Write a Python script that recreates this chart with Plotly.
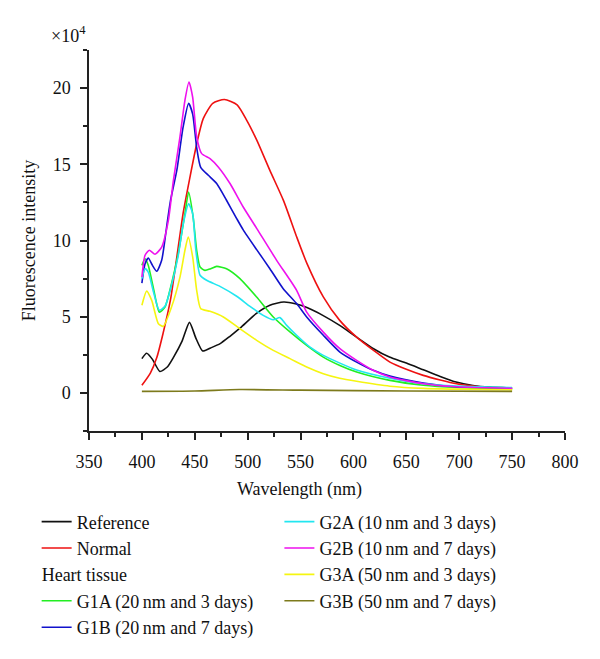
import plotly.graph_objects as go

# ---------------- data (values in units of 1e4) ----------------
ref_wl = [400, 404.5, 410, 417, 424, 430, 438, 445, 451, 457.5, 465, 474, 483, 493, 508, 521, 534, 545, 556, 571, 587, 603, 619, 634, 650, 666, 682, 697, 713, 729, 750]
ref_val = [2.25, 2.6, 2.2, 1.41, 1.7, 2.35, 3.4, 4.63, 3.6, 2.75, 2.95, 3.23, 3.7, 4.26, 5.2, 5.75, 5.96, 5.85, 5.6, 5.09, 4.43, 3.66, 2.9, 2.35, 1.96, 1.52, 1.08, 0.71, 0.49, 0.38, 0.32]

normal_wl = [400, 408, 414, 420, 427, 433, 439, 445, 452, 458, 467, 478, 490, 499, 508.5, 521, 534, 546, 556, 571.5, 587, 603, 619, 634.5, 650, 666, 682, 697.5, 713, 729, 750]
normal_val = [0.5, 1.3, 2.3, 3.9, 6.1, 8.9, 11.8, 14.0, 16.4, 18.0, 19.0, 19.25, 18.9, 17.9, 16.6, 14.6, 12.6, 10.3, 8.5, 6.3, 4.76, 3.66, 2.79, 2.02, 1.55, 1.15, 0.85, 0.6, 0.45, 0.32, 0.25]

g1a_wl = [400, 403, 406, 411, 416.5, 421.8, 428, 434.4, 440.7, 444.2, 448.5, 451.8, 455, 459.6, 465, 470.7, 480, 492.7, 508.5, 524.2, 540, 555.8, 571.5, 587.2, 603, 634.5, 666, 697.5, 750]
g1a_val = [8.37, 8.8, 8.37, 6.84, 5.3, 5.63, 7.17, 9.14, 11.77, 13.18, 11.5, 9.36, 8.26, 8.04, 8.15, 8.3, 8.15, 7.5, 6.29, 4.98, 4.0, 3.12, 2.35, 1.8, 1.37, 0.82, 0.5, 0.35, 0.25]

g1b_wl = [400, 403, 406, 410, 414, 418.7, 423.4, 427, 433, 439, 444.2, 448, 451.8, 455.6, 462.8, 470.7, 480, 489.6, 495.8, 508.5, 521, 533.6, 546.3, 555.8, 571.5, 587.2, 603, 618.7, 634.5, 666, 697.5, 750]
g1b_val = [7.2, 8.48, 8.85, 8.37, 7.98, 8.7, 10.9, 12.6, 14.6, 17.45, 19.0, 18.3, 16.1, 14.8, 14.28, 13.74, 12.64, 11.44, 10.7, 9.4, 8.15, 6.84, 5.86, 4.98, 3.78, 2.68, 2.02, 1.48, 1.1, 0.65, 0.4, 0.3]

g2a_wl = [400, 403, 406, 411, 416.5, 421.8, 428, 434.4, 439.1, 444.2, 448, 451, 455, 461.2, 473.8, 489.6, 502.2, 514.7, 524.2, 530.5, 536.9, 546.3, 559, 571.5, 603, 634.5, 666, 697.5, 750]
g2a_val = [7.5, 8.15, 7.93, 6.62, 5.42, 5.68, 7.06, 9.03, 11.1, 12.4, 11.77, 9.36, 7.72, 7.39, 6.99, 6.34, 5.68, 5.09, 4.8, 4.94, 4.43, 3.78, 3.0, 2.46, 1.5, 0.96, 0.6, 0.45, 0.35]

g2b_wl = [400, 403, 407, 412.4, 418.7, 425, 429.7, 436, 440.7, 444.5, 448, 451.8, 456.5, 464.4, 472.2, 483.3, 495.8, 508.5, 527.4, 546.3, 555.8, 571.5, 587.2, 603, 618.7, 634.5, 666, 697.5, 750]
g2b_val = [7.6, 9.03, 9.36, 9.1, 9.57, 11.3, 13.9, 16.8, 19.2, 20.4, 19.4, 16.8, 15.7, 15.38, 14.83, 13.74, 12.2, 10.8, 8.7, 6.73, 5.3, 3.99, 2.9, 2.13, 1.48, 1.04, 0.6, 0.4, 0.3]

g3a_wl = [400, 404.5, 409.3, 415.6, 420.2, 428, 436, 440.7, 443.8, 448, 451.8, 455.6, 464.4, 477, 492.7, 508.5, 524.2, 540, 555.8, 571.5, 587, 603, 634.5, 666, 750]
g3a_val = [5.75, 6.68, 6.07, 4.54, 4.37, 5.63, 7.6, 9.36, 10.23, 8.92, 6.73, 5.53, 5.35, 4.98, 4.21, 3.45, 2.79, 2.25, 1.7, 1.26, 0.96, 0.76, 0.44, 0.3, 0.2]

g3b_wl = [400, 450, 492, 550, 650, 750]
g3b_val = [0.1, 0.12, 0.22, 0.18, 0.12, 0.1]

series_names = ["Reference", "Normal", "G1A (20\u2009nm and 3 days)", "G1B (20\u2009nm and 7 days)",
                "G2A (10\u2009nm and 3 days)", "G2B (10\u2009nm and 7 days)",
                "G3A (50\u2009nm and 3 days)", "G3B (50\u2009nm and 7 days)"]
x_ticks = [350, 400, 450, 500, 550, 600, 650, 700, 750, 800]
y_ticks = [0, 5, 10, 15, 20]

FONT = "Times New Roman, Liberation Serif, serif"

fig = go.Figure()

specs = [
    (ref_wl, ref_val, "#111111", "legend", "a", None),
    (normal_wl, normal_val, "#ee1111", "legend", "a", None),
    (g1a_wl, g1a_val, "#22ee22", "legend", "b", "Heart tissue"),
    (g1b_wl, g1b_val, "#1111cc", "legend", "b", "Heart tissue"),
    (g2a_wl, g2a_val, "#22e6f0", "legend2", "c", None),
    (g2b_wl, g2b_val, "#ee11ee", "legend2", "c", None),
    (g3a_wl, g3a_val, "#f5f511", "legend2", "c", None),
    (g3b_wl, g3b_val, "#7d7a1c", "legend2", "c", None),
]

for (xs, ys, col, leg, grp, gt), name in zip(specs, series_names):
    kw = dict(x=xs, y=ys, mode="lines", name=name,
              line=dict(color=col, width=1.6, shape="spline", smoothing=0.6),
              legend=leg, legendgroup=grp)
    if gt:
        kw["legendgrouptitle"] = dict(text=gt, font=dict(family=FONT, size=18, color="#111"))
    fig.add_trace(go.Scatter(**kw))

axis_common = dict(showline=True, linecolor="#222", linewidth=1.5, showgrid=False, zeroline=False,
                   automargin=False,
                   ticks="outside", ticklen=7, tickwidth=1.5, tickcolor="#222",
                   tickfont=dict(family=FONT, size=18, color="#111"))

fig.update_xaxes(range=[350, 800], tickvals=x_ticks, ticklabelstandoff=7,
                 minor=dict(ticks="outside", ticklen=4, tickwidth=1.5, tickcolor="#222", dtick=25, tick0=350),
                 **axis_common)
fig.update_yaxes(range=[-2.5, 22.5], tickvals=y_ticks, ticklabelstandoff=6,
                 minor=dict(ticks="outside", ticklen=4, tickwidth=1.5, tickcolor="#222", dtick=2.5, tick0=0),
                 title=dict(text="Fluorescence intensity", font=dict(family=FONT, size=18, color="#111"), standoff=12),
                 **axis_common)

legend_common = dict(font=dict(family=FONT, size=18, color="#111"), bgcolor="rgba(0,0,0,0)",
                     xanchor="left", yanchor="top", traceorder="grouped", tracegroupgap=0,
                     itemwidth=30)

fig.update_layout(
    template="none",
    width=600, height=659,
    margin=dict(l=89, r=35, t=50, b=228, autoexpand=False),
    paper_bgcolor="white", plot_bgcolor="white",
    showlegend=True,
    legend=dict(x=-0.11, y=-0.19, **legend_common),
    legend2=dict(x=0.40, y=-0.19, **legend_common),
    annotations=[
        dict(text="\u00d710<sup>4</sup>", xref="paper", yref="paper", x=-0.085, y=1.04,
             xanchor="left", yanchor="middle", showarrow=False,
             font=dict(family=FONT, size=18, color="#111")),
        dict(text="Wavelength (nm)", xref="paper", yref="paper", x=0.443, y=-0.153,
             xanchor="center", yanchor="middle", showarrow=False,
             font=dict(family=FONT, size=18, color="#111")),
    ],
)

fig.write_html("out.html", config={"displayModeBar": False},
               post_script="document.body.style.margin='0';document.body.style.overflow='hidden';")
